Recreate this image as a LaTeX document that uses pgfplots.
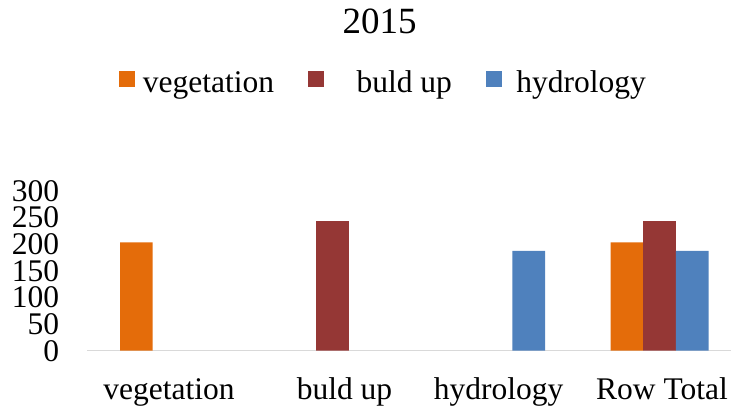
\documentclass[border=0pt]{standalone}
\usepackage{fontspec}
\setmainfont{Liberation Serif}
\usepackage{pgfplots}
\pgfplotsset{compat=1.18}
\definecolor{cveg}{RGB}{228,108,10}
\definecolor{cbuild}{RGB}{149,55,53}
\definecolor{chyd}{RGB}{79,129,189}
\definecolor{caxis}{RGB}{217,217,217}
\begin{document}
\begin{tikzpicture}
\useasboundingbox (0pt,0pt) rectangle (731pt,407pt);
\begin{axis}[
  at={(87.3pt,56.3pt)}, anchor=south west,
  scale only axis, width=643.7pt, height=160pt,
  ybar=0pt, bar width=0.2,
  xmin=-0.5, xmax=3.437, ymin=0, ymax=300,
  xtick={0,1,2,3}, xticklabels={vegetation, \hspace{24pt}buld up, \hspace{5pt}hydrology, \hspace{5pt}Row Total},
  ytick={0,50,...,300},
  axis x line*=bottom, axis y line*=left,
  x axis line style={draw=caxis, line width=1.5pt, -},
  y axis line style={draw=none, -},
  major tick length=0pt,
  tick style={draw=none},
  tick label style={font=\fontsize{31.5}{36}\selectfont, inner sep=0pt},
  yticklabel style={anchor=east, xshift=-28pt},
  xticklabel style={anchor=base, yshift=-48.3pt},
  /pgf/number format/assume math mode=true,
  title={2015},
  title style={font=\fontsize{37}{42}\selectfont, at={(axis description cs:0.4543,1.946)}, anchor=base, inner sep=0pt},
  legend columns=3,
  legend style={at={(axis description cs:0.0486,1.677)}, anchor=west, draw=none, fill=none,
    inner sep=0pt, outer sep=0pt,
    font=\fontsize{31.5}{36}\selectfont,
    nodes={inner sep=0pt},
    /tikz/every odd column/.append style={column sep=8.4pt},
    /tikz/every even column/.append style={column sep=34pt}},
  legend image code/.code={\fill[#1, draw=none] (0pt,-4.5pt) rectangle (16pt,11.5pt);},
]
\addplot[fill=cveg, draw=none] coordinates {(0,203) (3,203)};
\addplot[fill=cbuild, draw=none] coordinates {(1,243) (3,243)};
\addplot[fill=chyd, draw=none] coordinates {(2,187) (3,187)};
\legend{vegetation, \hspace{24pt}buld up, \hspace{6pt}hydrology}
\end{axis}
\end{tikzpicture}
\end{document}
